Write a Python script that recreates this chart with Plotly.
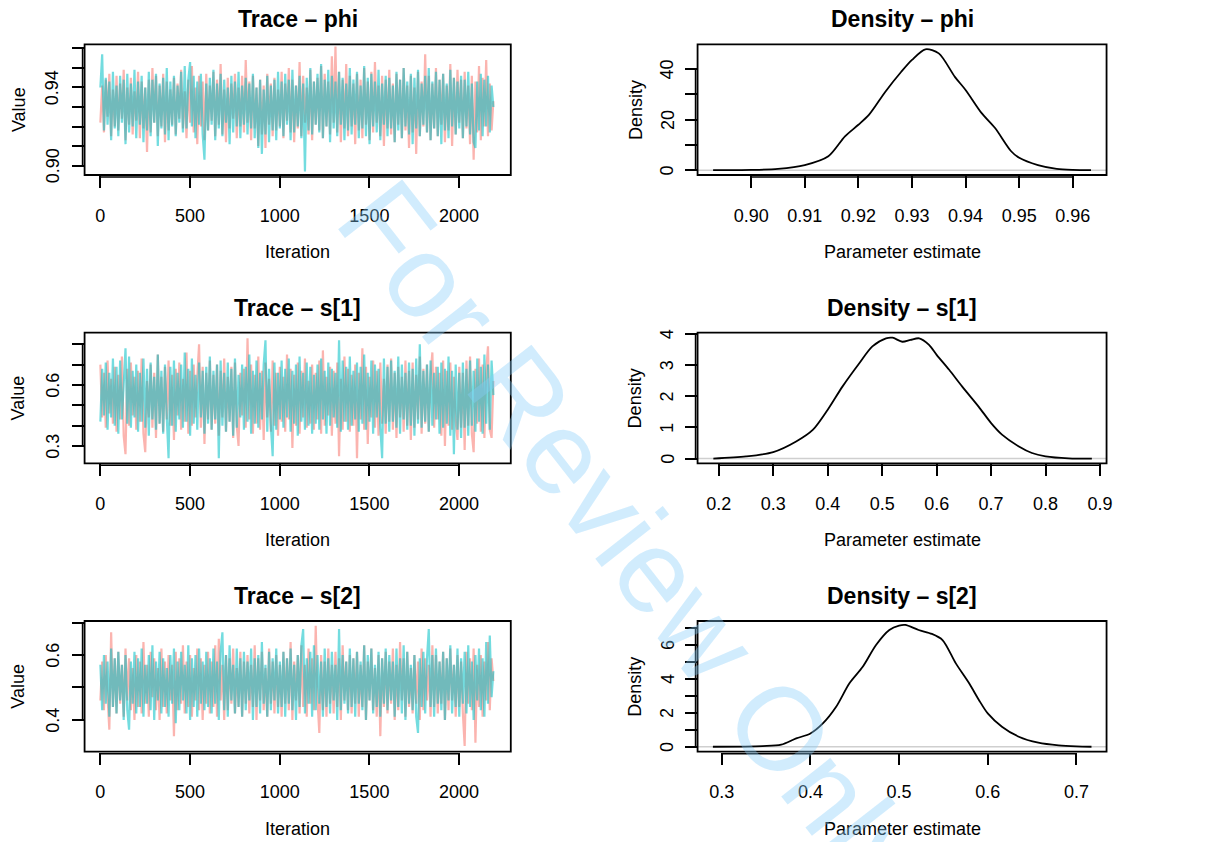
import plotly.graph_objects as go

W, H = 1226, 842
FONT = "Liberation Sans, Arial, Helvetica, sans-serif"

# ---------------- data ----------------
iterations = list(range(1, 2201, 10))

phi_chain1 = [
    0.922, 0.941, 0.917, 0.944, 0.925, 0.947, 0.915, 0.939, 0.920, 0.946, 0.918, 0.942, 0.924, 0.949, 0.913, 0.940, 0.921, 0.945, 0.916, 0.938,
    0.923, 0.948, 0.914, 0.943, 0.919, 0.940, 0.907, 0.944, 0.917, 0.950, 0.922, 0.946, 0.915, 0.941, 0.920, 0.947, 0.912, 0.943, 0.918, 0.939,
    0.921, 0.945, 0.916, 0.942, 0.924, 0.949, 0.919, 0.938, 0.914, 0.944, 0.922, 0.951, 0.917, 0.940, 0.911, 0.946, 0.920, 0.943, 0.913, 0.947,
    0.918, 0.941, 0.923, 0.948, 0.915, 0.944, 0.921, 0.952, 0.916, 0.939, 0.912, 0.945, 0.919, 0.942, 0.924, 0.947, 0.914, 0.940, 0.920, 0.946,
    0.917, 0.954, 0.922, 0.943, 0.913, 0.946, 0.919, 0.940, 0.910, 0.944, 0.916, 0.941, 0.909, 0.947, 0.921, 0.942, 0.915, 0.945, 0.918, 0.939,
    0.920, 0.948, 0.914, 0.942, 0.923, 0.950, 0.917, 0.944, 0.912, 0.941, 0.919, 0.953, 0.915, 0.946, 0.922, 0.940, 0.916, 0.949, 0.913, 0.943,
    0.921, 0.945, 0.918, 0.951, 0.914, 0.947, 0.920, 0.943, 0.916, 0.956, 0.922, 0.961, 0.917, 0.948, 0.912, 0.944, 0.919, 0.952, 0.915, 0.946,
    0.920, 0.942, 0.911, 0.947, 0.918, 0.944, 0.914, 0.950, 0.921, 0.943, 0.913, 0.948, 0.917, 0.953, 0.922, 0.941, 0.915, 0.946, 0.910, 0.944,
    0.919, 0.949, 0.916, 0.942, 0.912, 0.947, 0.921, 0.944, 0.914, 0.950, 0.918, 0.941, 0.909, 0.946, 0.917, 0.940, 0.906, 0.948, 0.915, 0.943,
    0.920, 0.957, 0.917, 0.946, 0.913, 0.942, 0.919, 0.950, 0.915, 0.944, 0.921, 0.947, 0.912, 0.941, 0.918, 0.952, 0.910, 0.945, 0.916, 0.949,
    0.922, 0.944, 0.914, 0.948, 0.919, 0.941, 0.911, 0.946, 0.903, 0.943, 0.917, 0.951, 0.913, 0.945, 0.920, 0.954, 0.915, 0.942, 0.918, 0.933,
]
phi_chain2 = [
    0.940, 0.957, 0.918, 0.945, 0.921, 0.943, 0.913, 0.948, 0.919, 0.941, 0.915, 0.946, 0.922, 0.944, 0.911, 0.947, 0.917, 0.942, 0.920, 0.949,
    0.914, 0.943, 0.921, 0.946, 0.912, 0.940, 0.918, 0.948, 0.915, 0.944, 0.922, 0.947, 0.910, 0.942, 0.919, 0.945, 0.916, 0.950, 0.913, 0.943,
    0.920, 0.946, 0.915, 0.941, 0.922, 0.948, 0.917, 0.951, 0.919, 0.944, 0.953, 0.920, 0.946, 0.914, 0.943, 0.921, 0.947, 0.916, 0.903, 0.942,
    0.918, 0.945, 0.921, 0.949, 0.913, 0.942, 0.919, 0.947, 0.915, 0.944, 0.922, 0.940, 0.911, 0.946, 0.917, 0.943, 0.920, 0.948, 0.914, 0.941,
    0.921, 0.945, 0.916, 0.942, 0.919, 0.947, 0.914, 0.940, 0.909, 0.944, 0.906, 0.939, 0.916, 0.946, 0.912, 0.941, 0.918, 0.944, 0.913, 0.948,
    0.919, 0.943, 0.915, 0.947, 0.921, 0.944, 0.913, 0.949, 0.917, 0.941, 0.920, 0.946, 0.914, 0.942, 0.897, 0.945, 0.918, 0.950, 0.916, 0.943,
    0.921, 0.947, 0.917, 0.952, 0.914, 0.944, 0.920, 0.949, 0.912, 0.946, 0.919, 0.943, 0.915, 0.948, 0.921, 0.945, 0.913, 0.942, 0.918, 0.950,
    0.916, 0.944, 0.921, 0.948, 0.914, 0.941, 0.919, 0.951, 0.915, 0.945, 0.911, 0.947, 0.920, 0.943, 0.917, 0.949, 0.913, 0.942, 0.921, 0.946,
    0.915, 0.945, 0.919, 0.941, 0.912, 0.948, 0.918, 0.944, 0.914, 0.950, 0.920, 0.943, 0.916, 0.947, 0.911, 0.945, 0.919, 0.949, 0.915, 0.942,
    0.921, 0.946, 0.917, 0.950, 0.913, 0.943, 0.919, 0.948, 0.915, 0.944, 0.911, 0.947, 0.918, 0.942, 0.914, 0.949, 0.920, 0.945, 0.916, 0.943,
    0.919, 0.946, 0.914, 0.944, 0.920, 0.948, 0.916, 0.942, 0.912, 0.909, 0.943, 0.918, 0.947, 0.915, 0.944, 0.920, 0.946, 0.917, 0.941, 0.930,
]

s1_chain1 = [
    0.70, 0.44, 0.66, 0.39, 0.72, 0.46, 0.63, 0.41, 0.69, 0.37, 0.65, 0.43, 0.74, 0.35, 0.26, 0.68, 0.40, 0.71, 0.45, 0.64,
    0.38, 0.67, 0.42, 0.73, 0.36, 0.27, 0.62, 0.44, 0.70, 0.39, 0.66, 0.34, 0.75, 0.41, 0.64, 0.37, 0.69, 0.43, 0.72, 0.40,
    0.65, 0.33, 0.68, 0.45, 0.71, 0.38, 0.63, 0.42, 0.76, 0.36, 0.67, 0.40, 0.70, 0.44, 0.64, 0.80, 0.39, 0.69, 0.31, 0.66,
    0.43, 0.72, 0.38, 0.65, 0.41, 0.70, 0.35, 0.67, 0.44, 0.73, 0.37, 0.64, 0.42, 0.69, 0.34, 0.71, 0.40, 0.30, 0.66, 0.45,
    0.68, 0.39, 0.83, 0.43, 0.70, 0.36, 0.65, 0.41, 0.74, 0.38, 0.67, 0.33, 0.71, 0.44, 0.63, 0.37, 0.72, 0.40, 0.66, 0.35,
    0.69, 0.42, 0.64, 0.37, 0.75, 0.43, 0.68, 0.29, 0.65, 0.40, 0.71, 0.36, 0.67, 0.44, 0.73, 0.39, 0.62, 0.41, 0.70, 0.38,
    0.66, 0.43, 0.72, 0.36, 0.77, 0.40, 0.64, 0.45, 0.69, 0.35, 0.67, 0.41, 0.71, 0.25, 0.63, 0.38, 0.74, 0.42, 0.68, 0.37,
    0.65, 0.40, 0.70, 0.24, 0.66, 0.43, 0.78, 0.38, 0.69, 0.31, 0.64, 0.44, 0.72, 0.39, 0.67, 0.35, 0.71, 0.41, 0.63, 0.36,
    0.70, 0.42, 0.73, 0.38, 0.66, 0.34, 0.69, 0.44, 0.64, 0.37, 0.72, 0.40, 0.67, 0.33, 0.71, 0.39, 0.65, 0.43, 0.74, 0.36,
    0.68, 0.41, 0.70, 0.37, 0.65, 0.76, 0.39, 0.69, 0.43, 0.66, 0.35, 0.72, 0.30, 0.67, 0.40, 0.71, 0.38, 0.64, 0.42, 0.33,
    0.69, 0.39, 0.66, 0.28, 0.72, 0.40, 0.74, 0.36, 0.27, 0.68, 0.41, 0.73, 0.37, 0.70, 0.34, 0.67, 0.79, 0.38, 0.34, 0.62,
]
s1_chain2 = [
    0.42, 0.68, 0.45, 0.71, 0.38, 0.66, 0.44, 0.73, 0.40, 0.69, 0.36, 0.72, 0.43, 0.65, 0.78, 0.41, 0.74, 0.39, 0.67, 0.44,
    0.70, 0.37, 0.66, 0.42, 0.73, 0.39, 0.68, 0.35, 0.71, 0.43, 0.64, 0.38, 0.75, 0.41, 0.67, 0.36, 0.70, 0.44, 0.24, 0.69,
    0.40, 0.72, 0.37, 0.66, 0.43, 0.70, 0.39, 0.76, 0.42, 0.68, 0.35, 0.73, 0.41, 0.65, 0.38, 0.71, 0.44, 0.67, 0.36, 0.69,
    0.41, 0.74, 0.38, 0.67, 0.43, 0.70, 0.24, 0.72, 0.40, 0.66, 0.37, 0.71, 0.42, 0.68, 0.35, 0.73, 0.39, 0.65, 0.44, 0.70,
    0.38, 0.69, 0.42, 0.75, 0.36, 0.67, 0.41, 0.72, 0.39, 0.66, 0.43, 0.70, 0.82, 0.37, 0.68, 0.40, 0.25, 0.71, 0.38, 0.66,
    0.43, 0.72, 0.39, 0.68, 0.44, 0.73, 0.37, 0.67, 0.41, 0.70, 0.35, 0.74, 0.42, 0.66, 0.38, 0.71, 0.40, 0.69, 0.36, 0.65,
    0.41, 0.70, 0.38, 0.73, 0.43, 0.67, 0.36, 0.71, 0.40, 0.68, 0.44, 0.66, 0.39, 0.82, 0.37, 0.72, 0.42, 0.69, 0.38, 0.74,
    0.40, 0.67, 0.43, 0.71, 0.37, 0.69, 0.41, 0.75, 0.38, 0.66, 0.42, 0.72, 0.36, 0.70, 0.44, 0.68, 0.39, 0.24, 0.73, 0.41,
    0.69, 0.37, 0.72, 0.42, 0.67, 0.39, 0.74, 0.36, 0.70, 0.43, 0.66, 0.38, 0.71, 0.40, 0.68, 0.35, 0.73, 0.41, 0.80, 0.39,
    0.67, 0.42, 0.70, 0.37, 0.72, 0.40, 0.66, 0.43, 0.69, 0.36, 0.71, 0.39, 0.68, 0.41, 0.74, 0.35, 0.67, 0.26, 0.70, 0.38,
    0.66, 0.34, 0.71, 0.39, 0.68, 0.35, 0.72, 0.40, 0.67, 0.37, 0.73, 0.42, 0.69, 0.36, 0.75, 0.41, 0.70, 0.38, 0.72, 0.55,
]

s2_chain1 = [
    0.46, 0.58, 0.43, 0.60, 0.47, 0.37, 0.67, 0.44, 0.59, 0.42, 0.61, 0.45, 0.57, 0.41, 0.62, 0.46, 0.59, 0.43, 0.56, 0.40,
    0.60, 0.44, 0.58, 0.42, 0.64, 0.45, 0.57, 0.41, 0.61, 0.47, 0.59, 0.43, 0.56, 0.40, 0.62, 0.44, 0.58, 0.42, 0.60, 0.46,
    0.57, 0.35, 0.61, 0.43, 0.59, 0.45, 0.63, 0.42, 0.58, 0.44, 0.60, 0.41, 0.56, 0.46, 0.62, 0.43, 0.59, 0.40, 0.57, 0.45,
    0.61, 0.42, 0.58, 0.44, 0.63, 0.41, 0.65, 0.46, 0.57, 0.40, 0.60, 0.43, 0.59, 0.45, 0.62, 0.42, 0.56, 0.44, 0.61, 0.41,
    0.58, 0.45, 0.60, 0.42, 0.57, 0.44, 0.63, 0.40, 0.59, 0.46, 0.61, 0.43, 0.56, 0.41, 0.62, 0.45, 0.58, 0.42, 0.60, 0.44,
    0.57, 0.41, 0.61, 0.45, 0.59, 0.43, 0.64, 0.40, 0.58, 0.46, 0.60, 0.42, 0.63, 0.44, 0.57, 0.41, 0.62, 0.45, 0.59, 0.43,
    0.69, 0.46, 0.36, 0.60, 0.43, 0.58, 0.41, 0.62, 0.45, 0.57, 0.42, 0.61, 0.44, 0.59, 0.40, 0.63, 0.46, 0.58, 0.43, 0.60,
    0.42, 0.59, 0.45, 0.61, 0.41, 0.57, 0.44, 0.63, 0.40, 0.58, 0.46, 0.62, 0.43, 0.56, 0.41, 0.60, 0.35, 0.59, 0.44, 0.61,
    0.42, 0.58, 0.45, 0.62, 0.40, 0.57, 0.43, 0.64, 0.46, 0.59, 0.41, 0.61, 0.44, 0.56, 0.42, 0.60, 0.45, 0.58, 0.40, 0.62,
    0.43, 0.59, 0.46, 0.57, 0.41, 0.63, 0.44, 0.60, 0.42, 0.58, 0.45, 0.61, 0.40, 0.59, 0.43, 0.62, 0.46, 0.57, 0.41, 0.60,
    0.44, 0.58, 0.42, 0.32, 0.61, 0.45, 0.59, 0.43, 0.62, 0.33, 0.57, 0.44, 0.60, 0.41, 0.58, 0.46, 0.64, 0.43, 0.59, 0.52,
]
s2_chain2 = [
    0.57, 0.43, 0.60, 0.45, 0.58, 0.41, 0.62, 0.44, 0.59, 0.42, 0.61, 0.46, 0.57, 0.40, 0.60, 0.43, 0.37, 0.58, 0.45, 0.61,
    0.42, 0.59, 0.44, 0.62, 0.41, 0.57, 0.45, 0.60, 0.43, 0.63, 0.40, 0.58, 0.46, 0.61, 0.42, 0.59, 0.44, 0.56, 0.41, 0.60,
    0.45, 0.62, 0.39, 0.58, 0.43, 0.61, 0.46, 0.57, 0.42, 0.63, 0.40, 0.59, 0.44, 0.60, 0.41, 0.62, 0.45, 0.58, 0.43, 0.61,
    0.44, 0.59, 0.42, 0.62, 0.45, 0.58, 0.40, 0.61, 0.67, 0.43, 0.60, 0.41, 0.63, 0.46, 0.57, 0.42, 0.62, 0.44, 0.59, 0.41,
    0.61, 0.43, 0.58, 0.46, 0.62, 0.40, 0.59, 0.44, 0.60, 0.42, 0.64, 0.45, 0.57, 0.41, 0.61, 0.43, 0.59, 0.46, 0.62, 0.42,
    0.58, 0.44, 0.61, 0.41, 0.59, 0.45, 0.62, 0.43, 0.57, 0.40, 0.60, 0.44, 0.63, 0.68, 0.42, 0.59, 0.45, 0.61, 0.41, 0.63,
    0.43, 0.60, 0.45, 0.58, 0.41, 0.62, 0.44, 0.59, 0.42, 0.61, 0.46, 0.57, 0.40, 0.68, 0.43, 0.60, 0.45, 0.58, 0.42, 0.62,
    0.44, 0.59, 0.41, 0.61, 0.45, 0.58, 0.43, 0.63, 0.40, 0.60, 0.46, 0.62, 0.42, 0.57, 0.44, 0.61, 0.41, 0.59, 0.45, 0.62,
    0.43, 0.60, 0.46, 0.58, 0.41, 0.62, 0.44, 0.59, 0.42, 0.63, 0.40, 0.61, 0.45, 0.57, 0.43, 0.60, 0.41, 0.36, 0.59, 0.44,
    0.61, 0.42, 0.59, 0.68, 0.44, 0.60, 0.41, 0.62, 0.45, 0.58, 0.43, 0.61, 0.40, 0.59, 0.46, 0.63, 0.42, 0.57, 0.44, 0.62,
    0.41, 0.59, 0.45, 0.61, 0.42, 0.63, 0.44, 0.58, 0.40, 0.60, 0.46, 0.62, 0.43, 0.59, 0.41, 0.64, 0.45, 0.66, 0.47, 0.55,
]

phi_dens_x = [0.8929, 0.900, 0.905, 0.910, 0.9144, 0.9175, 0.920, 0.922, 0.925, 0.928, 0.930, 0.9325,
              0.935, 0.938, 0.940, 0.943, 0.9455, 0.9485, 0.950, 0.9535, 0.957, 0.960, 0.9634]
phi_dens_y = [0.0, 0.1, 0.5, 2.0, 5.5, 13.4, 18.0, 22.0, 31.0, 39.0, 43.7, 47.9,
              46.3, 37.0, 31.8, 22.6, 16.7, 7.5, 4.9, 2.0, 0.5, 0.1, 0.0]

s1_dens_x = [0.19, 0.25, 0.30, 0.342, 0.373, 0.40, 0.427, 0.458, 0.482, 0.507, 0.519, 0.537, 0.552,
             0.568, 0.586, 0.60, 0.623, 0.647, 0.677, 0.70, 0.72, 0.751, 0.775, 0.80, 0.842, 0.885]
s1_dens_y = [0.0, 0.07, 0.21, 0.55, 0.93, 1.57, 2.31, 3.06, 3.60, 3.86, 3.88, 3.75, 3.81,
             3.86, 3.65, 3.33, 2.85, 2.31, 1.67, 1.14, 0.77, 0.39, 0.18, 0.075, 0.01, 0.0]

s2_dens_x = [0.290, 0.346, 0.367, 0.384, 0.40, 0.414, 0.429, 0.444, 0.459, 0.474, 0.489, 0.50, 0.507,
             0.522, 0.537, 0.549, 0.564, 0.579, 0.59, 0.60, 0.616, 0.635, 0.657, 0.68, 0.70, 0.717]
s2_dens_y = [0.0, 0.04, 0.12, 0.49, 0.78, 1.37, 2.35, 3.73, 4.70, 5.98, 6.86, 7.12, 7.16,
             6.86, 6.63, 6.27, 4.90, 3.73, 2.75, 1.96, 1.18, 0.59, 0.24, 0.08, 0.02, 0.0]

iter_ticks = [0, 500, 1000, 1500, 2000]
phi_trace_ticks = [0.90, 0.91, 0.92, 0.93, 0.94, 0.95, 0.96]
phi_trace_labels = ["0.90", "", "", "", "0.94", "", ""]
s1_trace_ticks = [0.3, 0.4, 0.5, 0.6, 0.7, 0.8]
s1_trace_labels = ["0.3", "", "", "0.6", "", ""]
s2_trace_ticks = [0.4, 0.5, 0.6, 0.7]
s2_trace_labels = ["0.4", "", "0.6", ""]

phi_dens_xticks = [0.90, 0.91, 0.92, 0.93, 0.94, 0.95, 0.96]
phi_dens_xlabels = ["0.90", "0.91", "0.92", "0.93", "0.94", "0.95", "0.96"]
phi_dens_yticks = [0, 10, 20, 30, 40]
phi_dens_ylabels = ["0", "", "20", "", "40"]
s1_dens_xticks = [0.2, 0.3, 0.4, 0.5, 0.6, 0.7, 0.8, 0.9]
s1_dens_xlabels = ["0.2", "0.3", "0.4", "0.5", "0.6", "0.7", "0.8", "0.9"]
s1_dens_yticks = [0, 1, 2, 3, 4]
s1_dens_ylabels = ["0", "1", "2", "3", "4"]
s2_dens_xticks = [0.3, 0.4, 0.5, 0.6, 0.7]
s2_dens_xlabels = ["0.3", "0.4", "0.5", "0.6", "0.7"]
s2_dens_yticks = [0, 1, 2, 3, 4, 5, 6, 7]
s2_dens_ylabels = ["0", "", "2", "", "4", "", "6", ""]

params = ["phi", "s[1]", "s[2]"]

# ---------------- layout geometry (pixels) ----------------
LEFT = (85.0, 513.3)
RIGHT = (701.0, 1112.0)
ROWS = [(44.3, 175.0), (332.7, 463.3), (621.0, 751.7)]

PINK = "rgba(248,118,109,0.55)"
CYAN = "rgba(0,191,196,0.55)"

fig = go.Figure()
layout = dict(
    width=W, height=H, autosize=False,
    margin=dict(l=0, r=0, t=0, b=0, pad=0),
    paper_bgcolor="white", plot_bgcolor="white",
    showlegend=False,
    font=dict(family=FONT, size=18, color="black"),
)
shapes = []
annotations = []

panels = [
    ("L", 0, "trace", [-87, 2288], [0.8952, 0.9621], iter_ticks, [str(v) for v in iter_ticks], phi_trace_ticks, phi_trace_labels),
    ("R", 0, "dens", [0.8900, 0.9663], [-1.92, 49.9], phi_dens_xticks, phi_dens_xlabels, phi_dens_yticks, phi_dens_ylabels),
    ("L", 1, "trace", [-87, 2288], [0.215, 0.857], iter_ticks, [str(v) for v in iter_ticks], s1_trace_ticks, s1_trace_labels),
    ("R", 1, "dens", [0.161, 0.912], [-0.15, 4.04], s1_dens_xticks, s1_dens_xlabels, s1_dens_yticks, s1_dens_ylabels),
    ("L", 2, "trace", [-87, 2288], [0.302, 0.705], iter_ticks, [str(v) for v in iter_ticks], s2_trace_ticks, s2_trace_labels),
    ("R", 2, "dens", [0.2727, 0.734], [-0.29, 7.39], s2_dens_xticks, s2_dens_xlabels, s2_dens_yticks, s2_dens_ylabels),
]

trace_data = [(phi_chain1, phi_chain2), (s1_chain1, s1_chain2), (s2_chain1, s2_chain2)]
dens_data = [(phi_dens_x, phi_dens_y), (s1_dens_x, s1_dens_y), (s2_dens_x, s2_dens_y)]

for i, (col, row, kind, xr, yr, xt, xl, yt, yl) in enumerate(panels):
    n = i + 1
    xa = "x" if n == 1 else f"x{n}"
    ya = "y" if n == 1 else f"y{n}"
    xl_key = "xaxis" if n == 1 else f"xaxis{n}"
    yl_key = "yaxis" if n == 1 else f"yaxis{n}"
    cx = LEFT if col == "L" else RIGHT
    top, bot = ROWS[row]
    xdom = [cx[0] / W, cx[1] / W]
    ydom = [1 - bot / H, 1 - top / H]
    hpx = bot - top
    wpx = cx[1] - cx[0]

    common = dict(showgrid=False, zeroline=False, showline=False, ticks="outside",
                  ticklen=12, tickwidth=1.6, tickcolor="black",
                  tickfont=dict(family=FONT, size=18, color="black"), fixedrange=True)
    layout[xl_key] = dict(domain=xdom, range=xr, anchor=ya, tickmode="array",
                          tickvals=xt, ticktext=xl, ticklabelstandoff=12, **common)
    layout[yl_key] = dict(domain=ydom, range=yr, anchor=xa, tickmode="array",
                          tickvals=yt, showticklabels=False, **common)

    # y tick labels (rotated, R style)
    off = 32.0 if kind == "trace" else 30.5
    for v, lab in zip(yt, yl):
        if lab:
            annotations.append(dict(text=lab, x=(cx[0] - off) / W, xref="paper", y=v, yref=ya,
                                    showarrow=False, xanchor="center", yanchor="middle", textangle=-90,
                                    font=dict(family=FONT, size=18, color="black")))

    if kind == "trace":
        c1, c2 = trace_data[row]
        fig.add_trace(go.Scatter(x=iterations, y=c1, mode="lines", line=dict(color=PINK, width=2.2),
                                 xaxis=xa, yaxis=ya, hoverinfo="skip"))
        fig.add_trace(go.Scatter(x=iterations, y=c2, mode="lines", line=dict(color=CYAN, width=2.2),
                                 xaxis=xa, yaxis=ya, hoverinfo="skip"))
        title = f"Trace \u2013 {params[row]}"
        xtitle, ytitle = "Iteration", "Value"
    else:
        dx, dy = dens_data[row]
        shapes.append(dict(type="line", xref=f"{xa} domain", yref=ya, x0=0, x1=1, y0=0, y1=0,
                           line=dict(color="#cfcfcf", width=1.5), layer="below"))
        fig.add_trace(go.Scatter(x=dx, y=dy, mode="lines",
                                 line=dict(color="black", width=1.8, shape="spline", smoothing=0.8),
                                 xaxis=xa, yaxis=ya, hoverinfo="skip"))
        title = f"Density \u2013 {params[row]}"
        xtitle, ytitle = "Parameter estimate", "Density"

    # frame box
    shapes.append(dict(type="rect", xref=f"{xa} domain", yref=f"{ya} domain", x0=0, x1=1, y0=0, y1=1,
                       line=dict(color="black", width=1.8)))
    # axis lines (slightly offset, spanning first to last tick)
    shapes.append(dict(type="line", xref=xa, yref=f"{ya} domain", x0=xt[0], x1=xt[-1],
                       y0=-2.0 / hpx, y1=-2.0 / hpx, line=dict(color="black", width=1.6)))
    shapes.append(dict(type="line", xref=f"{xa} domain", yref=ya, x0=-2.0 / wpx, x1=-2.0 / wpx,
                       y0=yt[0], y1=yt[-1], line=dict(color="black", width=1.6)))

    midx = (cx[0] + cx[1]) / 2
    annotations.append(dict(text=f"<b>{title}</b>", x=midx / W, y=1 - (top - 25) / H, xref="paper", yref="paper",
                            showarrow=False, xanchor="center", yanchor="middle",
                            font=dict(family=FONT, size=23, color="black")))
    annotations.append(dict(text=xtitle, x=midx / W, y=1 - (bot + 77) / H, xref="paper", yref="paper",
                            showarrow=False, xanchor="center", yanchor="middle",
                            font=dict(family=FONT, size=18, color="black")))
    ytx = 18.5 if col == "L" else 638.5
    annotations.append(dict(text=ytitle, x=ytx / W, y=1 - ((top + bot) / 2) / H, xref="paper", yref="paper",
                            showarrow=False, xanchor="center", yanchor="middle", textangle=-90,
                            font=dict(family=FONT, size=18, color="black")))

# watermark
annotations.append(dict(text="For Review Only", x=636 / W, y=1 - 540 / H, xref="paper", yref="paper",
                        showarrow=False, xanchor="center", yanchor="middle", textangle=52,
                        font=dict(family=FONT, size=118, color="rgba(135,206,250,0.38)")))

layout["shapes"] = shapes
layout["annotations"] = annotations
fig.update_layout(**layout)
fig.write_html("out.html", config={"displayModeBar": False},
               post_script="document.body.style.margin='0px';document.body.style.padding='0px';")
